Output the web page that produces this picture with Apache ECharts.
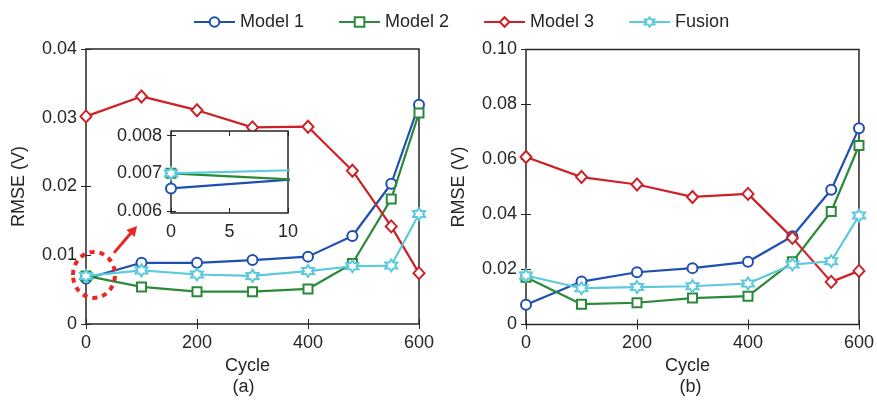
<!DOCTYPE html>
<html>
<head>
<meta charset="utf-8">
<script src="https://cdn.jsdelivr.net/npm/echarts@6/dist/echarts.min.js"></script>
<style>
  html, body { margin: 0; padding: 0; background: #fff; }
  #chart { width: 877px; height: 401px; }
</style>
</head>
<body>
<div id="chart"></div>
<script>
// Cycle numbers at which RMSE was evaluated
const cycles = [0, 100, 200, 300, 400, 480, 550, 600];
const seriesNames = ['Model 1', 'Model 2', 'Model 3', 'Fusion'];

// Panel (a): RMSE (V)
const rmseA_model1 = [0.0066, 0.0089, 0.0089, 0.0093, 0.0098, 0.0128, 0.0204, 0.0319];
const rmseA_model2 = [0.0070, 0.0054, 0.0047, 0.0047, 0.0051, 0.0088, 0.0182, 0.0307];
const rmseA_model3 = [0.0302, 0.0331, 0.0311, 0.0286, 0.0287, 0.0223, 0.0142, 0.0074];
const rmseA_fusion = [0.0070, 0.0078, 0.0072, 0.0070, 0.0077, 0.0084, 0.0085, 0.0160];

// Panel (b): RMSE (V)
const rmseB_model1 = [0.0072, 0.0156, 0.0190, 0.0205, 0.0228, 0.0321, 0.0490, 0.0714];
const rmseB_model2 = [0.0172, 0.0074, 0.0079, 0.0096, 0.0103, 0.0228, 0.0411, 0.0651];
const rmseB_model3 = [0.0609, 0.0536, 0.0509, 0.0464, 0.0475, 0.0315, 0.0155, 0.0195];
const rmseB_fusion = [0.0178, 0.0132, 0.0136, 0.0139, 0.0149, 0.0218, 0.0230, 0.0396];

// Tick values
const xTicks = [0, 200, 400, 600];
const yTicksA = [0, 0.01, 0.02, 0.03, 0.04];
const yTicksB = [0, 0.02, 0.04, 0.06, 0.08, 0.10];
const insetXTicks = [0, 5, 10];
const insetYTicks = [0.006, 0.007, 0.008];
const insetYRange = [0.00595, 0.00812];

const colors = ['#1f4fb3', '#2b8a3a', '#cc2127', '#5cc9dc'];
const hexagram = 'path://M0,-10 L2.887,-5 L8.66,-5 L5.774,0 L8.66,5 L2.887,5 L0,10 L-2.887,5 L-8.66,5 L-5.774,0 L-8.66,-5 L-2.887,-5 Z';
const symbols = ['circle', 'rect', 'diamond', hexagram];
const symbolSizes = [10, 9, [11, 12], 12];

const FONT = '"Liberation Sans", Arial, Helvetica, sans-serif';
const INK = '#262626';

const chart = echarts.init(document.getElementById('chart'), null, { renderer: 'canvas' });

function toPairs(vals) { return cycles.map((c, i) => [c, vals[i]]); }

function lineSeries(k, vals, axisIdx, z, clip) {
  return {
    type: 'line',
    name: seriesNames[k],
    xAxisIndex: axisIdx,
    yAxisIndex: axisIdx,
    data: toPairs(vals),
    symbol: symbols[k],
    symbolSize: symbolSizes[k],
    showAllSymbol: true,
    clip: clip,
    z: z,
    lineStyle: { color: colors[k], width: 2.2 },
    itemStyle: { color: '#fff', borderColor: colors[k], borderWidth: 2 },
    emphasis: { disabled: true },
    animation: false
  };
}

const tickFmt = (d) => (v) => (v === 0 ? '0' : v.toFixed(d));

function bottomAxis(grid, min, max, interval, z) {
  return {
    type: 'value', gridIndex: grid, position: 'bottom', min: min, max: max, interval: interval, z: z,
    axisLine: { show: false },
    axisTick: { show: true, inside: true, length: 5, lineStyle: { color: INK, width: 1 } },
    axisLabel: { color: INK, fontFamily: FONT, fontSize: 18, margin: 10 },
    splitLine: { show: false }
  };
}
function topAxis(grid, min, max, interval, z) {
  return {
    type: 'value', gridIndex: grid, position: 'top', min: min, max: max, interval: interval, z: z,
    axisLine: { show: false },
    axisTick: { show: true, inside: true, length: 5, lineStyle: { color: INK, width: 1 } },
    axisLabel: { show: false }, splitLine: { show: false }
  };
}
function leftAxis(grid, min, max, interval, decimals, z, custom) {
  const ax = {
    type: 'value', gridIndex: grid, position: 'left', min: min, max: max, z: z,
    axisLine: { show: false },
    axisTick: { show: true, inside: true, length: 5, lineStyle: { color: INK, width: 1 } },
    axisLabel: { color: INK, fontFamily: FONT, fontSize: 18, margin: 9, formatter: tickFmt(decimals) },
    splitLine: { show: false }
  };
  if (interval != null) ax.interval = interval;
  if (custom) { ax.axisTick.customValues = custom; ax.axisLabel.customValues = custom; }
  return ax;
}
function rightAxis(grid, min, max, interval, z, custom) {
  const ax = {
    type: 'value', gridIndex: grid, position: 'right', min: min, max: max, z: z,
    axisLine: { show: false },
    axisTick: { show: true, inside: true, length: 5, lineStyle: { color: INK, width: 1 } },
    axisLabel: { show: false }, splitLine: { show: false }
  };
  if (interval != null) ax.interval = interval;
  if (custom) { ax.axisTick.customValues = custom; ax.axisTick.length = 4; }
  return ax;
}

const nameStyle = { color: INK, fontFamily: FONT, fontSize: 18 };
function withName(ax, name, gap, padding) {
  return Object.assign(ax, {
    name: name, nameLocation: 'middle', nameGap: gap,
    nameTextStyle: Object.assign({}, nameStyle, padding ? { padding: padding } : {})
  });
}

const xMin = xTicks[0], xMax = xTicks[xTicks.length - 1], xInt = xTicks[1] - xTicks[0];
const yAMax = yTicksA[yTicksA.length - 1], yAInt = yTicksA[1] - yTicksA[0];
const yBMax = yTicksB[yTicksB.length - 1], yBInt = yTicksB[1] - yTicksB[0];
const ixMin = insetXTicks[0], ixMax = insetXTicks[insetXTicks.length - 1], ixInt = insetXTicks[1] - insetXTicks[0];

const xAxes = [
  withName(bottomAxis(0, xMin, xMax, xInt, 1), 'Cycle', 32, [0, 10, 0, 0]),
  topAxis(0, xMin, xMax, xInt, 1),
  withName(bottomAxis(1, xMin, xMax, xInt, 1), 'Cycle', 32, [0, 10, 0, 0]),
  topAxis(1, xMin, xMax, xInt, 1),
  bottomAxis(2, ixMin, ixMax, ixInt, 8),
  topAxis(2, ixMin, ixMax, ixInt, 8)
];
const yAxes = [
  withName(leftAxis(0, 0, yAMax, yAInt, 2, 1), 'RMSE (V)', 58),
  rightAxis(0, 0, yAMax, yAInt, 1),
  withName(leftAxis(1, 0, yBMax, yBInt, 2, 1), 'RMSE (V)', 58),
  rightAxis(1, 0, yBMax, yBInt, 1),
  leftAxis(2, insetYRange[0], insetYRange[1], null, 3, 8, insetYTicks),
  rightAxis(2, insetYRange[0], insetYRange[1], null, 8, insetYTicks)
];

const dataA = [rmseA_model1, rmseA_model2, rmseA_model3, rmseA_fusion];
const dataB = [rmseB_model1, rmseB_model2, rmseB_model3, rmseB_fusion];

const series = [];
// panel (a) uses axis pair 0, panel (b) axis pair 2, the zoomed view axis pair 4
dataA.forEach((d, k) => series.push(lineSeries(k, d, 0, 2 + k * 0.01, false)));
dataB.forEach((d, k) => series.push(lineSeries(k, d, 2, 2 + k * 0.01, false)));
dataA.forEach((d, k) => series.push(lineSeries(k, d, 4, 9 + k * 0.01, true)));

const option = {
  animation: false,
  backgroundColor: '#fff',
  textStyle: { fontFamily: FONT },
  legend: {
    data: seriesNames,
    left: 193,
    top: 13,
    padding: 0,
    itemWidth: 41,
    itemHeight: 12,
    itemGap: 34,
    textStyle: { color: INK, fontFamily: FONT, fontSize: 18 },
    selectedMode: false
  },
  grid: [
    { left: 86, top: 49, width: 333, height: 275, show: true, backgroundColor: 'transparent', borderColor: INK, borderWidth: 1.5, z: 0 },
    { left: 526, top: 49.5, width: 337, height: 275, show: true, backgroundColor: 'transparent', borderColor: INK, borderWidth: 1.5, z: 0 },
    { left: 171, top: 131, width: 117, height: 82, show: true, backgroundColor: '#fff', borderColor: INK, borderWidth: 1.5, z: 5 }
  ],
  xAxis: xAxes,
  yAxis: yAxes,
  series: series
};

chart.setOption(option);

// Annotation: dotted ring around the start point and an arrow pointing to the zoomed view
const anchor = chart.convertToPixel({ gridIndex: 0 }, [cycles[0], rmseA_model2[0]]);
const ringC = [anchor[0] + 8, anchor[1] - 1];
const tail = [anchor[0] + 28, anchor[1] - 23];
const tip = [anchor[0] + 51, anchor[1] - 50];
const dx = tip[0] - tail[0], dy = tip[1] - tail[1];
const len = Math.sqrt(dx * dx + dy * dy);
const ux = dx / len, uy = dy / len;
const headLen = 10, headHalf = 5.5;
const base = [tip[0] - ux * headLen, tip[1] - uy * headLen];
const red = '#ee2424';

const centerA = chart.convertToPixel({ gridIndex: 0 }, [(xMin + xMax) / 2, 0]);
const centerB = chart.convertToPixel({ gridIndex: 1 }, [(xMin + xMax) / 2, 0]);

chart.setOption({
  graphic: [
    {
      type: 'ellipse', z: 20,
      shape: { cx: ringC[0], cy: ringC[1], rx: 21, ry: 23 },
      style: { fill: 'none', stroke: red, lineWidth: 4, lineDash: [5, 5] }
    },
    {
      type: 'line', z: 20,
      shape: { x1: tail[0], y1: tail[1], x2: base[0] + ux * 2, y2: base[1] + uy * 2 },
      style: { stroke: red, lineWidth: 3 }
    },
    {
      type: 'polygon', z: 20,
      shape: { points: [tip, [base[0] - uy * headHalf, base[1] + ux * headHalf], [base[0] + uy * headHalf, base[1] - ux * headHalf]] },
      style: { fill: red }
    },
    {
      type: 'text', z: 20, x: centerA[0] - 9, y: 387,
      style: { text: '(a)', fill: INK, font: '18px ' + FONT, textAlign: 'center', textVerticalAlign: 'middle' }
    },
    {
      type: 'text', z: 20, x: centerB[0] - 2, y: 387,
      style: { text: '(b)', fill: INK, font: '18px ' + FONT, textAlign: 'center', textVerticalAlign: 'middle' }
    }
  ]
});
</script>
</body>
</html>
